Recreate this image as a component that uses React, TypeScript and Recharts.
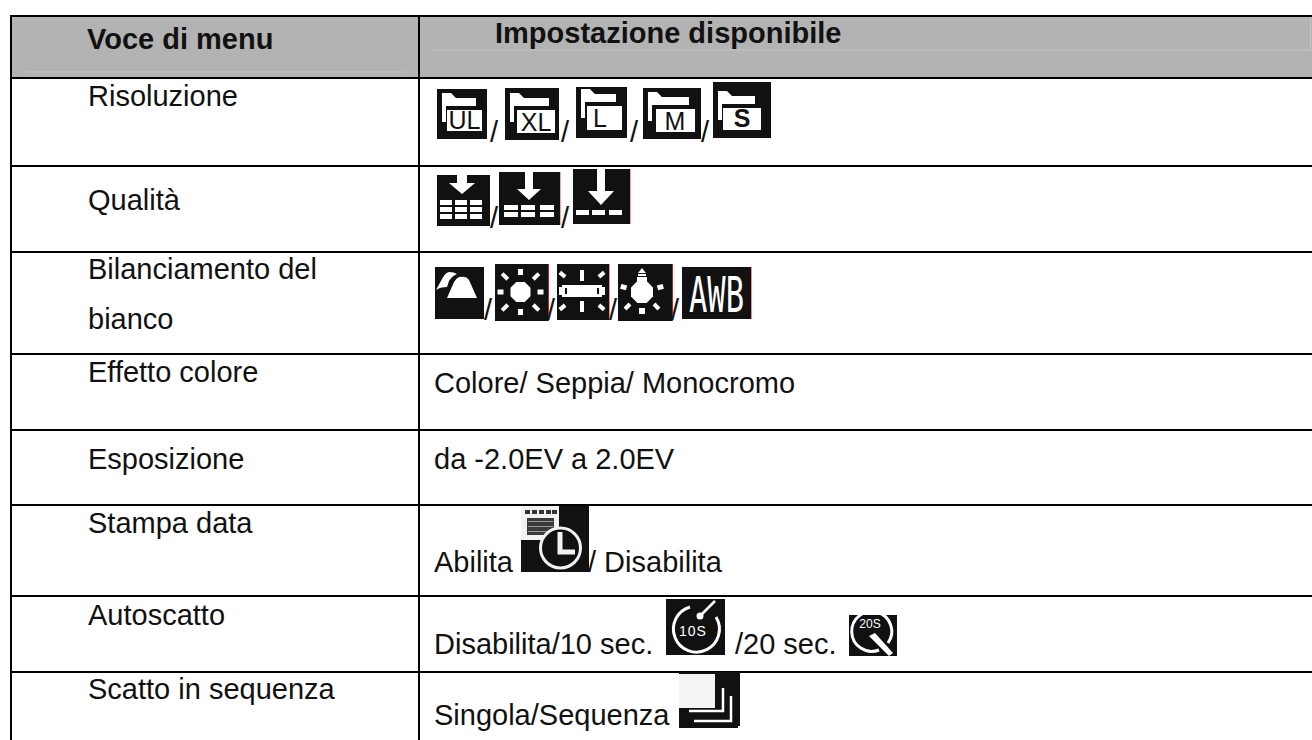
import React from "react";
import { ScatterChart, Scatter, XAxis, YAxis, ReferenceLine, ReferenceArea } from "recharts";

const FONT = "'Liberation Sans', Arial, sans-serif";
const WIDTH = 1312;
const HEIGHT = 740;

// ---- table content ----
const headerLabels = ["Voce di menu", "Impostazione disponibile"];
const menuLabels = ["Risoluzione", "Qualità", "Bilanciamento del", "bianco", "Effetto colore", "Esposizione", "Stampa data", "Autoscatto", "Scatto in sequenza"];
const settingLabels = ["Colore/ Seppia/ Monocromo", "da -2.0EV a 2.0EV", "Abilita", "/ Disabilita", "Disabilita/10 sec.", "/20 sec.", "Singola/Sequenza"];
const iconKinds = ["UL", "XL", "L", "M", "S", "q3", "q2", "q1", "cloud", "sun", "tube", "bulb", "AWB", "date", "t10", "t20", "seq"];

// ---- table geometry (pixel-valued axes) ----
const rowRules = [16, 78, 166, 252, 354, 430, 505, 596, 672];
const colRules = [11, 419];
const menuX = 88;
const settingX = [434, 434, 434, 588, 434, 735, 434];
const headerX = [87, 495];
const headerY = [49, 43];
const menuY = [106, 210, 279, 329, 382, 469, 533, 625, 699];
const settingY = [393, 469, 572, 572, 654, 654, 725];
const iconBoxes = [
  [437, 89, 50, 50], [505, 88, 54, 52], [576, 87, 51, 51], [643, 88, 58, 51], [713, 82, 58, 56],
  [437, 175, 53, 51], [499, 172, 61, 53], [573, 169, 57, 55],
  [435, 267, 49, 52], [495, 264, 53, 57], [557, 264, 52, 56], [618, 264, 54, 57], [682, 267, 69, 52],
  [521, 506, 68, 66], [666, 599, 59, 56], [849, 615, 48, 41], [679, 672, 61, 56],
];
const iconEdges: Record<string, string> = { q2: "#f2a6a6", q1: "#f2a6a6", sun: "#c42020", tube: "#ee8a8a", bulb: "#c42020", AWB: "#ee8a8a" };
const slashX = [490, 561, 630, 701, 490, 561, 484, 547, 609, 671];
const slashY = [142, 142, 142, 142, 228, 228, 320, 320, 320, 320];

type TextPoint = { x: number; y: number; label: string; bold?: boolean };
type IconPoint = { x: number; y: number; kind: string; w: number; h: number };

const textPoints: TextPoint[] = [
  ...headerLabels.map((label, i) => ({ x: headerX[i], y: headerY[i], label, bold: true })),
  ...menuLabels.map((label, i) => ({ x: menuX, y: menuY[i], label })),
  ...settingLabels.map((label, i) => ({ x: settingX[i], y: settingY[i], label })),
  ...slashX.map((x, i) => ({ x, y: slashY[i], label: "/" })),
];
const iconPoints: IconPoint[] = iconKinds.map((kind, i) => ({
  x: iconBoxes[i][0], y: iconBoxes[i][1], w: iconBoxes[i][2], h: iconBoxes[i][3], kind,
}));

const K = "#111111";
const W = "#ffffff";

// folder icon parts: front box [x0, y0, x1, y1], letter x, baseline, font size
const folderParts: Record<string, number[]> = {
  UL: [10, 21, 45, 42, 27.5, 40, 25],
  XL: [12, 22, 50, 45, 31, 43, 25],
  L: [11, 19, 46, 43, 24, 40, 25],
  M: [13, 21, 52, 44, 32, 42, 25],
  S: [10, 26, 48, 48, 29, 45, 25],
};

function Folder({ w, h, letter }: { w: number; h: number; letter: string }) {
  const [x0, y0, x1, y1, lx, ly, fs] = folderParts[letter];
  const t = y0 - 17;
  return (
    <g>
      <rect width={w} height={h} fill={K} />
      <path d={`M5 ${t} L14 ${t} L19 ${t + 5} L${x1 - 6} ${t + 5} L${x1 - 6} ${t + 13} L9 ${t + 13} L9 ${t + 29} L5 ${t + 29} Z`} fill={W} />
      <rect x={x0} y={y0} width={x1 - x0} height={y1 - y0} fill={W} />
      <text x={lx} y={ly} textAnchor="middle" fontFamily={FONT} fontSize={fs} fontWeight={letter === "S" ? 700 : 400} fill={K}>{letter}</text>
    </g>
  );
}

// quality icon parts: arrow centre, stem half width, head half width, head top, tip, cell size
const qualityParts: Record<string, { cx: number; s: number; a: number; t: number; tip: number; xs: number[]; cw: number; ys: number[] }> = {
  q3: { cx: 25, s: 5, a: 13, t: 8, tip: 19, xs: [3, 18, 33], cw: 12, ys: [25, 32, 39] },
  q2: { cx: 30, s: 4, a: 12, t: 17, tip: 28, xs: [5, 22, 41], cw: 14, ys: [33, 40] },
  q1: { cx: 28, s: 4, a: 13, t: 22, tip: 36, xs: [3, 19, 36], cw: 13, ys: [41] },
};

function Quality({ w, h, kind }: { w: number; h: number; kind: string }) {
  const { cx, s, a, t, tip, xs, cw, ys } = qualityParts[kind];
  return (
    <g>
      <rect width={w} height={h} fill={K} />
      <path d={`M${cx - s} 0 H${cx + s} V${t} H${cx + a} L${cx} ${tip} L${cx - a} ${t} H${cx - s} Z`} fill={W} />
      {ys.map((y) => xs.map((x) => <rect key={`${x}-${y}`} x={x} y={y} width={cw} height={5} fill={W} />))}
    </g>
  );
}

function Octagon({ cx, cy, r }: { cx: number; cy: number; r: number }) {
  const k = r * 0.42;
  return <path d={`M${cx - k} ${cy - r} H${cx + k} L${cx + r} ${cy - k} V${cy + k} L${cx + k} ${cy + r} H${cx - k} L${cx - r} ${cy + k} V${cy - k} Z`} fill={W} />;
}

function Ray({ cx, cy, a, d, len, th }: { cx: number; cy: number; a: number; d: number; len: number; th: number }) {
  return <rect x={cx - th / 2} y={cy - d - len} width={th} height={len} fill={W} transform={`rotate(${a} ${cx} ${cy})`} />;
}

function Sun({ w, h }: { w: number; h: number }) {
  const cx = w / 2 - 1;
  const cy = 28;
  return (
    <g>
      <rect width={w} height={h} fill={K} />
      <Octagon cx={cx} cy={cy} r={10} />
      {[0, 90, 180, 270].map((a) => <Ray key={a} cx={cx} cy={cy} a={a} d={17} len={6} th={5} />)}
      {[45, 135, 225, 315].map((a) => <Ray key={a} cx={cx} cy={cy} a={a} d={18} len={8} th={4} />)}
    </g>
  );
}

function Tube({ w, h }: { w: number; h: number }) {
  const cx = 25;
  const cy = 27;
  return (
    <g>
      <rect width={w} height={h} fill={K} />
      <rect x={5} y={21} width={40} height={12} fill={W} />
      <rect x={2} y={23} width={3} height={8} fill={W} />
      <rect x={45} y={23} width={3} height={8} fill={W} />
      <rect x={8} y={24} width={2} height={6} fill={K} />
      <rect x={40} y={24} width={2} height={6} fill={K} />
      {[0, 180].map((a) => <Ray key={a} cx={cx} cy={cy} a={a} d={10} len={11} th={4} />)}
      {[50, 130, 230, 310].map((a) => <Ray key={a} cx={cx} cy={cy} a={a} d={22} len={7} th={4} />)}
    </g>
  );
}

function Bulb({ w, h }: { w: number; h: number }) {
  const cx = 24;
  const cy = 28;
  return (
    <g>
      <rect width={w} height={h} fill={K} />
      <Octagon cx={cx} cy={cy} r={11} />
      <path d={`M${cx - 4} 9 L${cx} 4 L${cx + 4} 9 Z`} fill={W} />
      <rect x={cx - 4} y={10} width={8} height={2} fill={W} />
      <rect x={cx - 5} y={13} width={10} height={4} fill={W} />
      {[75, 285].map((a) => <Ray key={a} cx={cx} cy={cy} a={a} d={16} len={6} th={5} />)}
      {[135, 225].map((a) => <Ray key={a} cx={cx} cy={cy} a={a} d={17} len={7} th={4} />)}
      <rect x={cx - 3} y={44} width={6} height={6} fill={W} />
    </g>
  );
}

function IconShape(props: any) {
  const { cx, cy, payload } = props;
  const { kind, w, h } = payload as IconPoint;
  let body: React.ReactNode = null;
  if (folderParts[kind]) body = <Folder w={w} h={h} letter={kind} />;
  else if (qualityParts[kind]) body = <Quality w={w} h={h} kind={kind} />;
  else if (kind === "cloud")
    body = (
      <g>
        <rect width={w} height={h} fill={K} />
        <path d="M12 31 L19 15 Q23 9 27 10 Q31 9 34 13 L42 31 Z" fill={W} />
        <path d="M1 23 L7 12 Q10 6 14 5 Q19 5 22 7 Q17 9 14 14 L12 20 Q5 20 1 23 Z" fill={W} />
      </g>
    );
  else if (kind === "sun") body = <Sun w={w} h={h} />;
  else if (kind === "tube") body = <Tube w={w} h={h} />;
  else if (kind === "bulb") body = <Bulb w={w} h={h} />;
  else if (kind === "AWB")
    body = (
      <g>
        <rect width={w} height={h} fill={K} />
        <text x={7} y={45} fontFamily="'Liberation Sans Narrow', 'DejaVu Sans Mono', monospace" fontSize={49} fill={W} textLength={55} lengthAdjust="spacingAndGlyphs">AWB</text>
      </g>
    );
  else if (kind === "date")
    body = (
      <g>
        <rect x={0} y={0} width={w} height={h} fill={K} />
        <rect x={0} y={0} width={38} height={34} fill="#f2f2f2" />
        {[4, 11, 18, 25, 31].map((x) => <rect key={x} x={x} y={4} width={5} height={4} fill="#333" />)}
        <rect x={6} y={12} width={27} height={17} fill="#3a3a3a" />
        {[15, 20, 25].map((y) => <rect key={y} x={7} y={y} width={25} height={1} fill="#9a9a9a" />)}
        <circle cx={39.5} cy={42} r={20} fill={K} stroke="#f2f2f2" strokeWidth={3} />
        <path d="M39 26 V46 H54" stroke="#f2f2f2" strokeWidth={5} fill="none" />
      </g>
    );
  else if (kind === "t10")
    body = (
      <g>
        <rect width={w} height={h} fill={K} />
        <path d="M50 18 A23 23 0 1 1 24 8" stroke={W} strokeWidth={3} fill="none" />
        <path d="M34 17 L49 2" stroke={W} strokeWidth={2.5} />
        <circle cx={34} cy={17} r={3.5} fill={W} />
        <text x={27} y={37} textAnchor="middle" fontFamily={FONT} fontSize={14} letterSpacing={1} fill={W}>10S</text>
      </g>
    );
  else if (kind === "t20")
    body = (
      <g>
        <rect width={w} height={h} fill={K} />
        <path d="M39 29 A20 20 0 1 0 30 36" stroke={W} strokeWidth={3} fill="none" transform="translate(0 -1)" />
        <path d="M20 21 L26 18 L44 38 L40 41 Z" fill={W} />
        <text x={21} y={13} textAnchor="middle" fontFamily={FONT} fontSize={12} fill={W}>20S</text>
      </g>
    );
  else if (kind === "seq")
    body = (
      <g>
        <rect width={w} height={h} fill={K} />
        <rect x={0} y={2} width={36} height={34} fill="#f4f4f4" />
        <path d="M10 39 H44 V16" stroke={W} strokeWidth={2.5} fill="none" />
        <path d="M15 49 H52 V24" stroke={W} strokeWidth={2.5} fill="none" />
        <rect x={w - 2} y={h - 2} width={2} height={2} fill={W} />
      </g>
    );
  const edge = iconEdges[kind];
  return (
    <g transform={`translate(${cx} ${cy})`}>
      {body}
      {edge ? <rect x={w} y={0} width={1} height={h} fill={edge} /> : null}
    </g>
  );
}

function TextShape(props: any) {
  const { cx, cy, payload } = props;
  const { label, bold } = payload as TextPoint;
  return (
    <text x={cx} y={cy} fontFamily={FONT} fontSize={29} fontWeight={bold ? 700 : 400} fill="#111111">
      {label}
    </text>
  );
}

export default function App() {
  return (
    <div style={{ position: "absolute", left: 0, top: 0, width: WIDTH, height: HEIGHT, overflow: "hidden", background: "#fff" }}>
      <ScatterChart width={WIDTH} height={HEIGHT} margin={{ top: 0, right: 0, bottom: 0, left: 0 }}>
        <XAxis type="number" dataKey="x" domain={[0, WIDTH]} hide allowDataOverflow />
        <YAxis type="number" dataKey="y" domain={[0, HEIGHT]} reversed hide allowDataOverflow />
        <ReferenceArea x1={colRules[0]} x2={WIDTH} y1={rowRules[0]} y2={rowRules[1]} fill="#b3b3b3" fillOpacity={1} stroke="none" />
        <ReferenceLine segment={[{ x: 26, y: 72 }, { x: 405, y: 72 }]} stroke="#c4c4c4" strokeWidth={1} />
        <ReferenceLine segment={[{ x: 433, y: 50 }, { x: 1310, y: 50 }]} stroke="#c4c4c4" strokeWidth={1} />
        <ReferenceLine segment={[{ x: 1310.5, y: 17 }, { x: 1310.5, y: 50 }]} stroke="#c4c4c4" strokeWidth={1} />
        {rowRules.map((y) => (
          <ReferenceLine key={y} segment={[{ x: colRules[0] - 1, y }, { x: WIDTH, y }]} stroke="#000" strokeWidth={2} />
        ))}
        {colRules.map((x) => (
          <ReferenceLine key={x} segment={[{ x, y: rowRules[0] - 1 }, { x, y: HEIGHT }]} stroke="#000" strokeWidth={2} />
        ))}
        <Scatter data={iconPoints} shape={IconShape} isAnimationActive={false} />
        <Scatter data={textPoints} shape={TextShape} isAnimationActive={false} />
      </ScatterChart>
    </div>
  );
}
